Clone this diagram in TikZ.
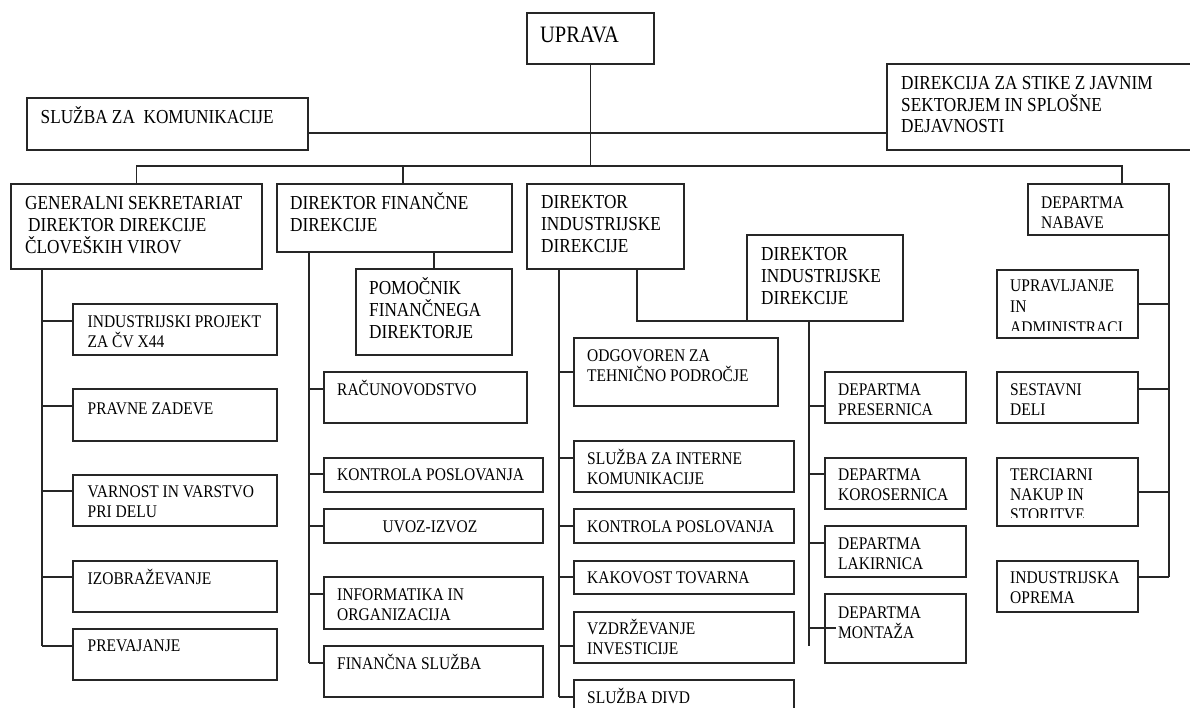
\documentclass[tikz,border=0pt]{standalone}
\usepackage{fontspec}
\setmainfont[FakeStretch=0.87]{Liberation Serif}
\usetikzlibrary{calc}
\newcommand\bigf{\fontsize{23.5}{26}\selectfont}
\newcommand\topf{\fontsize{19.8}{22}\selectfont}
\newcommand\lowf{\fontsize{17.8}{20}\selectfont}
\newcommand\fr{\rule{0pt}{20pt}}
\newcommand\bx[5]{\node[box, minimum width={(#4-#2)*1pt}, minimum height={(#5-#3)*1pt}] (#1) at (#2,#3) {};}
\newcommand\TX[4]{\node[tt] (#1) at (#2,#3-13.45) {\fr#4};}
\newcommand\LX[4]{\node[lt] (#1) at (#2,#3-14.1) {\fr#4};}
\begin{document}
\begin{tikzpicture}[x=1pt,y=-1pt,
 box/.style={draw=black!85, line width=1.5pt, inner sep=0pt, outer sep=0pt, anchor=north west},
 con/.style={draw=black!85, line width=1.5pt},
 tt/.style={anchor=north west, inner sep=0pt, align=left, font=\topf, text=black},
 lt/.style={anchor=north west, inner sep=0pt, align=left, font=\lowf, text=black}]
\fill[white] (0,0) rectangle (1190,708);
\useasboundingbox (0,0) rectangle (1190,708);
\begin{scope}
\clip (0,0) rectangle (1190,708);
% boxes
\bx{up}{527}{13}{654}{64}
\bx{sk}{27}{98}{308}{150}
\bx{dz}{887}{64}{1230}{150}
\bx{gs}{11}{184}{262}{269}
\bx{fin}{277}{184}{512}{252}
\bx{ind}{527}{184}{684}{269}
\bx{ind2}{747}{235}{903}{321}
\bx{nab}{1028}{184}{1169}{235}
\bx{pom}{356}{269}{512}{355}
\bx{ip}{73}{304}{277}{355}
\bx{pz}{73}{389}{277}{441}
\bx{vv}{73}{475}{277}{526}
\bx{iz}{73}{561}{277}{612}
\bx{pr}{73}{629}{277}{680}
\bx{ra}{324}{372}{527}{423}
\bx{kf}{324}{458}{543}{492}
\bx{uv}{324}{509}{543}{543}
\bx{io}{324}{577}{543}{629}
\bx{fs}{324}{646}{543}{697}
\bx{og}{574}{338}{778}{406}
\bx{si}{574}{441}{794}{492}
\bx{ki}{574}{509}{794}{543}
\bx{kt}{574}{561}{794}{594}
\bx{vz}{574}{612}{794}{663}
\bx{sd}{574}{680}{794}{730}
\bx{dp}{825}{372}{966}{423}
\bx{dk}{825}{458}{966}{509}
\bx{dl}{825}{526}{966}{577}
\bx{dm}{825}{594}{966}{663}
\bx{ua}{997}{270}{1138}{338}
\bx{sv}{997}{372}{1138}{423}
\bx{tn}{997}{458}{1138}{526}
\bx{ino}{997}{561}{1138}{612}
% texts
\node[anchor=north west, inner sep=0pt, font=\bigf] (tup) at (540,22.8) {\fr UPRAVA};
\TX{tsk}{40.5}{117}{SLUŽBA ZA~~KOMUNIKACIJE}
\node[tt, font=\fontsize{19.8}{21.5}\selectfont] (tdz) at (901,83-13.45) {\fr DIREKCIJA ZA STIKE Z JAVNIM\\SEKTORJEM IN SPLOŠNE\\DEJAVNOSTI};
\TX{tgs}{25}{203}{GENERALNI SEKRETARIAT\\\kern3pt DIREKTOR DIREKCIJE\\ČLOVEŠKIH VIROV}
\TX{tfin}{290}{203}{DIREKTOR FINANČNE\\DIREKCIJE}
\TX{tpom}{369}{288}{POMOČNIK\\FINANČNEGA\\DIREKTORJE}
\TX{tind}{541}{202}{DIREKTOR\\INDUSTRIJSKE\\DIREKCIJE}
\TX{tind2}{761}{254}{DIREKTOR\\INDUSTRIJSKE\\DIREKCIJE}
\LX{tnab}{1041}{202}{DEPARTMA\\NABAVE}
\LX{tip}{87.5}{321}{INDUSTRIJSKI PROJEKT\\ZA ČV X44}
\LX{tpz}{87.5}{408}{PRAVNE ZADEVE}
\LX{tvv}{87.5}{491}{VARNOST IN VARSTVO\\PRI DELU}
\LX{tiz}{87.5}{578}{IZOBRAŽEVANJE}
\LX{tpr}{87.5}{645}{PREVAJANJE}
\LX{tra}{337}{389}{RAČUNOVODSTVO}
\LX{tkf}{337}{474}{KONTROLA POSLOVANJA}
\node[lt, anchor=north] (tuv) at (430,526-14.1) {\fr UVOZ-IZVOZ};
\LX{tio}{337}{594}{INFORMATIKA IN\\ORGANIZACIJA}
\LX{tfs}{337}{663}{FINANČNA SLUŽBA}
\LX{tog}{587}{355}{ODGOVOREN ZA\\TEHNIČNO PODROČJE}
\LX{tsi}{587}{458}{SLUŽBA ZA INTERNE\\KOMUNIKACIJE}
\LX{tki}{587}{526}{KONTROLA POSLOVANJA}
\LX{tkt}{587}{577}{KAKOVOST TOVARNA}
\LX{tvz}{587}{628}{VZDRŽEVANJE\\INVESTICIJE}
\LX{tsd}{587}{697}{SLUŽBA DIVD}
\LX{tdp}{838}{389}{DEPARTMA\\PRESERNICA}
\LX{tdk}{838}{474}{DEPARTMA\\KOROSERNICA}
\LX{tdl}{838}{543}{DEPARTMA\\LAKIRNICA}
\LX{tdm}{838}{612}{DEPARTMA\\MONTAŽA}
\begin{scope}
\clip (ua.north west) rectangle ([yshift=8pt]ua.south east);
\node[lt, font=\fontsize{17.8}{21}\selectfont] (tua) at (1010,285-14.1) {\fr UPRAVLJANJE\\IN\\ADMINISTRACI};
\end{scope}
\LX{tsv}{1010}{389}{SESTAVNI\\DELI}
\begin{scope}
\clip (tn.north west) rectangle ([yshift=9pt]tn.south east);
\LX{ttn}{1010}{474}{TERCIARNI\\NAKUP IN\\STORITVE}
\end{scope}
\LX{tino}{1010}{577}{INDUSTRIJSKA\\OPREMA}
% connectors
\coordinate (hl) at (0,133);
\coordinate (busR) at (1122,166);
\coordinate (fd) at (403,166);
\draw[con] (up.south) -- (up.south |- busR);
\draw[con] (sk.east |- hl) -- (dz.west |- hl);
\draw[con] (gs.north) |- (busR) -- (busR |- nab.north);
\draw[con] (fd) -- (fd |- fin.north);
\draw[con] (pom.north) -- (pom.north |- fin.south);
\coordinate (gsb) at (42,646);
\draw[con] (gsb |- gs.south) -- (gsb);
\foreach \n/\yy in {ip/321,pz/406,vv/491,iz/577,pr/646}
  \draw[con] (42,\yy) -- (\n.west |- 42,\yy);
\coordinate (fb) at (309,663);
\draw[con] (fb |- fin.south) -- (fb);
\foreach \n/\yy in {ra/389,kf/474,uv/526,io/594,fs/663}
  \draw[con] (309,\yy) -- (\n.west |- 309,\yy);
\coordinate (ib) at (559,697);
\draw[con] (ib |- ind.south) -- (ib);
\foreach \n/\yy in {og/372,si/458,ki/526,kt/577,vz/646,sd/697}
  \draw[con] (559,\yy) -- (\n.west |- 559,\yy);
\coordinate (ic) at (637,0);
\draw[con] (ic |- ind.south) |- (ind2.south west);
\coordinate (i2b) at (809,646);
\draw[con] (i2b |- ind2.south) -- (i2b);
\foreach \n/\yy in {dp/406,dk/474,dl/543}
  \draw[con] (809,\yy) -- (\n.west |- 809,\yy);
\draw[con] (809,628) -- ([xshift=11pt]dm.west |- 809,628);
\coordinate (nb) at (1169,577);
\draw[con] (nab.south east) -- (nb);
\foreach \n/\yy in {ua/304,sv/389,tn/492,ino/577}
  \draw[con] (\n.east |- 1169,\yy) -- (1169,\yy);
\end{scope}
\end{tikzpicture}
\end{document}
